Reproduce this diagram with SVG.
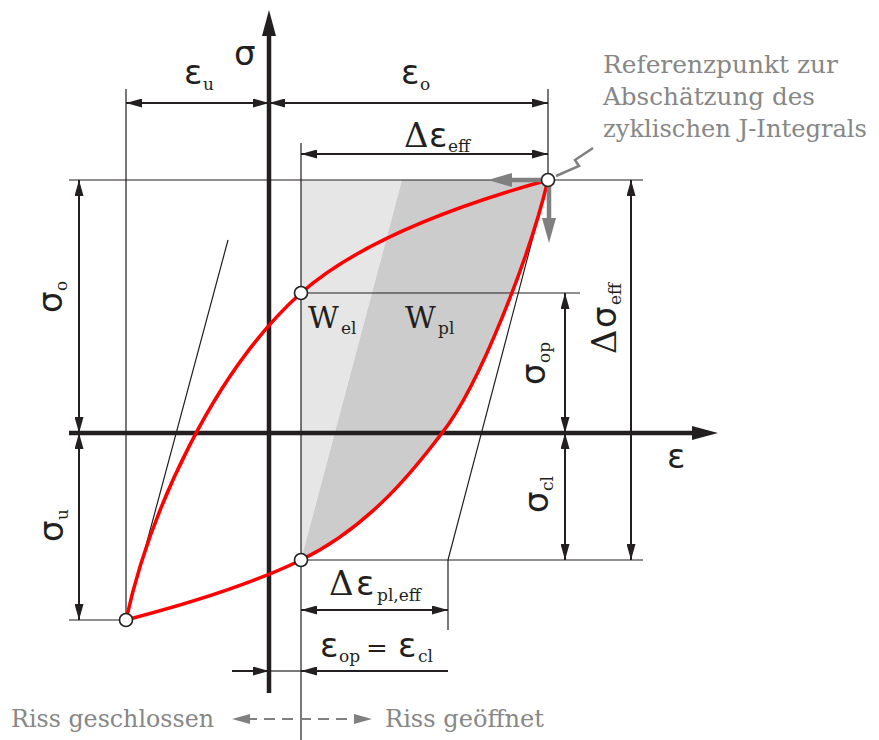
<svg xmlns="http://www.w3.org/2000/svg" width="879" height="740" viewBox="0 0 879 740">
<defs>
<style>
.thin{stroke:#231f20;stroke-width:1.2;fill:none}
.dim{stroke:#231f20;stroke-width:2;fill:none}
.de{marker-end:url(#a)}
.ds{marker-start:url(#a)}
.ax{stroke:#231f20;stroke-width:4.5;fill:none}
.axh{fill:#231f20}
.red{stroke:#ff0000;stroke-width:3.5;fill:none;stroke-linejoin:round}
.pt{fill:#fff;stroke:#231f20;stroke-width:1.6}
.gr{stroke:#808080;stroke-width:4.5;fill:none}
.grh{fill:#808080}
.g{font-family:"DejaVu Sans",sans-serif;font-size:34px;fill:#231f20}
.s{font-family:"DejaVu Serif",serif;fill:#231f20}
.big{font-size:30px}
.dl{font-size:34px}
.sub{font-size:17px}
.eq{font-size:26px}
.note{font-family:"DejaVu Serif",serif;font-size:25px;fill:#878787}
</style>
<marker id="a" markerUnits="userSpaceOnUse" markerWidth="16" markerHeight="9" refX="16" refY="4.5" orient="auto-start-reverse">
<path d="M0,0 L16,4.5 L0,9 Z" fill="#231f20"/>
</marker>
</defs>

<g id="areas">
<path id="W_el_area" d="M301,180 L402,180 L301,560 Z" fill="#e6e6e6"/>
<path id="W_pl_area" d="M402,180 L548,180 C530,255 480,385 442,433 C417,466 371,526 301,560 Z" fill="#cccccc"/>
</g>

<g id="connectors">
<path class="thin" d="M69,180 H643 M301,293 H580 M301,560 H643 M69,620 H126 M126,89 V620 M548,89 V180 M301,143 V740 M448,560 V630"/>
<path class="thin" d="M126,620 L228,240 M548,180 L448,560"/>
<line class="dim ds de" x1="126" y1="103" x2="269" y2="103"/>
<line class="dim ds de" x1="269" y1="103" x2="548" y2="103"/>
<line class="dim ds de" x1="301" y1="154" x2="548" y2="154"/>
<line class="dim ds de" x1="79" y1="180" x2="79" y2="433"/>
<line class="dim ds de" x1="79" y1="433" x2="79" y2="620"/>
<line class="dim ds de" x1="565" y1="293" x2="565" y2="433"/>
<line class="dim ds de" x1="565" y1="433" x2="565" y2="560"/>
<line class="dim ds de" x1="631" y1="180" x2="631" y2="560"/>
<line class="dim ds de" x1="301" y1="610" x2="448" y2="610"/>
<line class="dim de" x1="232" y1="671" x2="269" y2="671"/>
<line class="dim de" x1="448" y1="671" x2="301" y2="671"/>
<line class="thin" x1="269" y1="671" x2="301" y2="671"/>
<line class="ax" x1="269" y1="693" x2="269" y2="32"/>
<polygon class="axh" points="269,10 262,36 276,36"/>
<line class="ax" x1="69" y1="433" x2="696" y2="433"/>
<polygon class="axh" points="718,433 692,426 692,440"/>
<line x1="246" y1="719" x2="358" y2="719" stroke="#808080" stroke-width="2" stroke-dasharray="11,7"/>
<polygon class="grh" points="232,719 250,714 250,724"/>
<polygon class="grh" points="372,719 354,714 354,724"/>
</g>

<g id="curve">
<path class="red" d="M126,620 C150,510 215,370 301,293 C361,240 458,205 548,180"/>
<path class="red" d="M126,620 C180,606 250,585 301,560 C371,526 417,466 442,433 C480,385 530,255 548,180"/>
</g>

<g id="reference-arrows">
<line class="gr" x1="548" y1="180" x2="510" y2="180"/>
<polygon class="grh" points="488,180 512,173 512,187"/>
<line class="gr" x1="549" y1="180" x2="549" y2="220"/>
<polygon class="grh" points="549,243 542,218 556,218"/>
<polyline points="556,176 579,166 575,160 593,148" fill="none" stroke="#808080" stroke-width="2.5"/>
</g>

<g id="points">
<circle id="p-top" class="pt" cx="548" cy="180" r="6.5"/>
<circle id="p-op" class="pt" cx="301" cy="293" r="6.5"/>
<circle id="p-cl" class="pt" cx="301" cy="560" r="6.5"/>
<circle id="p-min" class="pt" cx="126" cy="620" r="6.5"/>
</g>

<g id="labels">
<text class="g" x="234" y="65">σ</text>
<text class="g" x="667" y="468">ε</text>
<g id="lbl-eps-u"><text class="g" x="184" y="84">ε</text><text class="s sub" x="203" y="90">u</text></g>
<g id="lbl-eps-o"><text class="g" x="401" y="84">ε</text><text class="s sub" x="420" y="90">o</text></g>
<g id="lbl-deps-eff"><text class="s dl" x="404" y="147">Δ</text><text class="g" x="429" y="147">ε</text><text class="s sub" x="448" y="152">eff</text></g>
<g id="lbl-sig-o" transform="translate(62,313) rotate(-90)"><text class="g" x="0" y="0">σ</text><text class="s sub" x="22" y="5">o</text></g>
<g id="lbl-sig-u" transform="translate(63,542) rotate(-90)"><text class="g" x="0" y="0">σ</text><text class="s sub" x="22" y="5">u</text></g>
<g id="lbl-sig-op" transform="translate(545,385) rotate(-90)"><text class="g" x="0" y="0">σ</text><text class="s sub" x="22" y="5">op</text></g>
<g id="lbl-sig-cl" transform="translate(548,513) rotate(-90)"><text class="g" x="0" y="0">σ</text><text class="s sub" x="22" y="5">cl</text></g>
<g id="lbl-dsig-eff" transform="translate(616,354) rotate(-90)"><text class="s dl" x="0" y="0">Δ</text><text class="g" x="26" y="0">σ</text><text class="s sub" x="49" y="5">eff</text></g>
<g id="lbl-W-el"><text class="s big" x="308" y="328">W</text><text class="s sub" x="341" y="334">el</text></g>
<g id="lbl-W-pl"><text class="s big" x="405" y="328">W</text><text class="s sub" x="438" y="334">pl</text></g>
<g id="lbl-deps-pl"><text class="s dl" x="329" y="595">Δ</text><text class="g" x="356" y="595">ε</text><text class="s sub" x="377" y="601">pl,eff</text></g>
<g id="lbl-eps-opcl"><text class="g" x="320" y="657">ε</text><text class="s sub" x="339" y="662">op</text><text class="s eq" x="366" y="657">=</text><text class="g" x="398" y="657">ε</text><text class="s sub" x="418" y="662">cl</text></g>
<g id="note">
<text class="note" x="603" y="73" textLength="235" lengthAdjust="spacingAndGlyphs">Referenzpunkt zur</text>
<text class="note" x="603" y="105" textLength="212" lengthAdjust="spacingAndGlyphs">Abschätzung des</text>
<text class="note" x="603" y="137" textLength="264" lengthAdjust="spacingAndGlyphs">zyklischen J-Integrals</text>
</g>
<text class="note" x="11" y="727" textLength="203" lengthAdjust="spacingAndGlyphs">Riss geschlossen</text>
<text class="note" x="385" y="727" textLength="159" lengthAdjust="spacingAndGlyphs">Riss geöffnet</text>
</g>
</svg>
